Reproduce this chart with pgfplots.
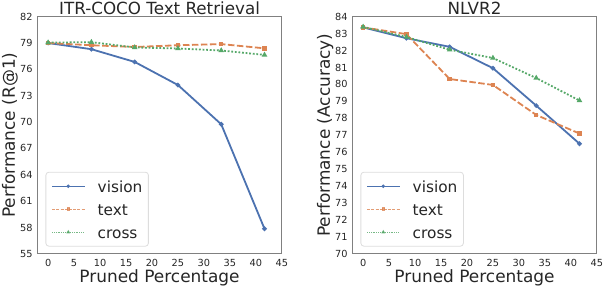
\documentclass[border=0pt]{standalone}
\usepackage{pgfplots}
\pgfplotsset{compat=1.18}
\usepackage{fontspec}
\setmainfont{DejaVu Sans}
\definecolor{cblue}{HTML}{4C72B0}
\definecolor{corange}{HTML}{DD8452}
\definecolor{cgreen}{HTML}{55A868}
\definecolor{txt}{HTML}{262626}
\definecolor{framec}{HTML}{808080}
\definecolor{legc}{HTML}{DDDDDD}
\pgfplotsset{
  every axis title shift=0pt,
  myaxis/.style={
    scale only axis, width=244.5bp, height=237.1bp,
    xmin=-2.083, xmax=45,
    xtick={0,5,...,45},
    major tick length=0pt,
    axis line style={draw=framec, line width=0.9bp},
    every tick label/.append style={font=\fontsize{9.8}{11}\selectfont, text=txt},
    /pgf/number format/assume math mode=true,
    xticklabel style={inner sep=0pt, anchor=north, yshift=-5.5bp},
    yticklabel style={inner sep=0pt, anchor=east, xshift=-4.5bp},
    xlabel={Pruned Percentage},
    xlabel style={at={(axis description cs:0.5,0)}, anchor=north, inner sep=0pt, yshift=-15.6bp, font=\fontsize{17}{20}\selectfont, text=txt},
    ylabel style={at={(axis description cs:-0.1452,0.5)}, rotate=0, anchor=north, inner sep=0pt, font=\fontsize{17}{20}\selectfont, text=txt},
    title style={at={(axis description cs:0.5,1)}, anchor=base, inner sep=0pt, yshift=2.5bp, font=\fontsize{16.8}{20}\selectfont, text=txt},
    legend style={
      at={(axis description cs:0.0335,0.0304)}, anchor=south west,
      draw=legc, line width=0.8bp, rounded corners=3bp, fill=white,
      font=\fontsize{15.4}{18}\selectfont, text=txt,
      inner xsep=6bp, inner ysep=5bp, row sep=5bp, column sep=12.7bp,
      cells={anchor=west},
      nodes={inner sep=0pt, text height=15bp, text depth=3bp},
    },
    legend image code/.code={\draw[mark repeat=2,mark phase=2,##1,line width=0.8bp] plot coordinates {(0bp,0bp) (16bp,0bp) (32.3bp,0bp)};},
  },
  vis/.style={color=cblue, line width=1.8bp, solid, mark=*, mark size=1.3bp, mark options={solid}},
  txtp/.style={color=corange, line width=1.8bp, dash pattern=on 6.5bp off 2.5bp, mark=square*, mark size=1.3bp, mark options={solid},
    legend image post style={dash pattern=on 3bp off 1.2bp, opacity=0.8}},
  crs/.style={color=cgreen, line width=1.8bp, dash pattern=on 1.8bp off 1.8bp, mark=triangle*, mark size=1.5bp, mark options={solid},
    legend image post style={dash pattern=on 0.9bp off 0.9bp, opacity=0.8}},
}
\begin{document}
\begin{tikzpicture}
\begin{axis}[myaxis, at={(0,0)}, anchor=south west,
  ymin=55, ymax=82, ytick={55,58,...,82},
  title={ITR-COCO Text Retrieval},
  ylabel={Performance (R@1)}]
\addplot[vis] coordinates {(0,79.0) (8.333,78.3) (16.667,76.85) (25,74.22) (33.333,69.75) (41.667,57.85)};
\addlegendentry{vision}
\addplot[txtp] coordinates {(0,79.0) (8.333,78.75) (16.667,78.55) (25,78.75) (33.333,78.88) (41.667,78.4)};
\addlegendentry{text}
\addplot[crs] coordinates {(0,79.05) (8.333,79.1) (16.667,78.5) (25,78.38) (33.333,78.15) (41.667,77.65)};
\addlegendentry{cross}
\end{axis}
\begin{axis}[myaxis, at={(315bp,0)}, anchor=south west,
  ymin=70, ymax=84, ytick={70,71,...,84},
  title={NLVR2},
  ylabel={Performance (Accuracy)}]
\addplot[vis] coordinates {(0,83.37) (8.333,82.73) (16.667,82.22) (25,80.96) (33.333,78.75) (41.667,76.5)};
\addlegendentry{vision}
\addplot[txtp] coordinates {(0,83.37) (8.333,82.97) (16.667,80.32) (25,79.97) (33.333,78.2) (41.667,77.1)};
\addlegendentry{text}
\addplot[crs] coordinates {(0,83.4) (8.333,82.8) (16.667,82.05) (25,81.56) (33.333,80.38) (41.667,79.05)};
\addlegendentry{cross}
\end{axis}
\pgfresetboundingbox
\path[use as bounding box] (-37.3bp,-34.2bp) rectangle (566.7bp,253.8bp);
\end{tikzpicture}
\end{document}
